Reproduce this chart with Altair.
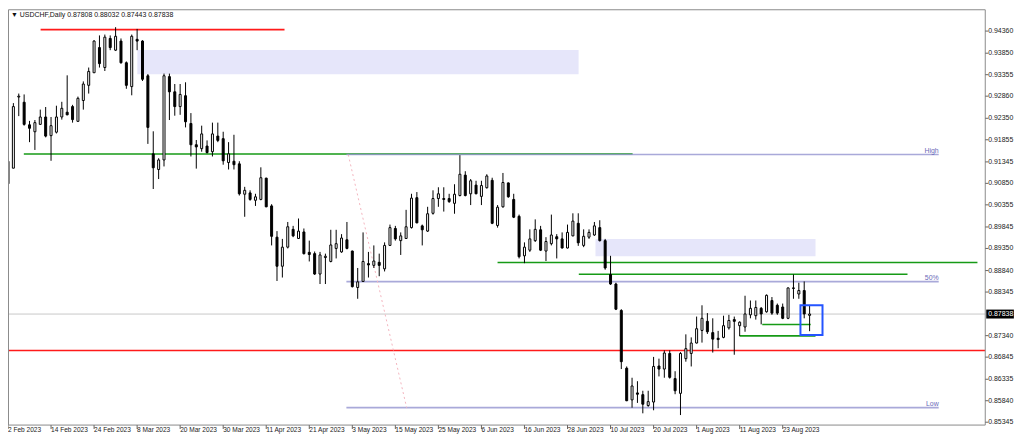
import altair as alt
import pandas as pd

# ---------------- data ----------------
opens = [
0.9084, 0.9120, 0.9284, 0.9272, 0.9220, 0.9204, 0.9221, 0.9238, 0.9195, 0.9203,
0.9238, 0.9249, 0.9262, 0.9228, 0.9276, 0.9311, 0.9340, 0.9398, 0.9352, 0.9419,
0.9392, 0.9413, 0.9363, 0.9308, 0.9417, 0.9413, 0.9333, 0.9153, 0.9117, 0.9139,
0.9331, 0.9296, 0.9262, 0.9287, 0.9223, 0.9174, 0.9165, 0.9171, 0.9158, 0.9194,
0.9188, 0.9133, 0.9136, 0.9130, 0.9060, 0.9063, 0.9046, 0.9048, 0.9097, 0.9033,
0.8961, 0.8894, 0.8938, 0.8979, 0.8958, 0.8973, 0.8926, 0.8923, 0.8876, 0.8914,
0.8905, 0.8935, 0.8927, 0.8955, 0.8929, 0.8845, 0.8859, 0.8900, 0.8896, 0.8903,
0.8888, 0.8942, 0.8981, 0.8953, 0.8958, 0.8983, 0.9052, 0.8987, 0.8975, 0.9016,
0.9050, 0.9050, 0.9050, 0.9039, 0.9057, 0.9104, 0.9061, 0.9081, 0.9055, 0.9075,
0.9092, 0.8988, 0.9031, 0.9086, 0.9048, 0.9009, 0.8918, 0.8931, 0.8953, 0.8978,
0.8929, 0.8946, 0.8962, 0.8957, 0.8936, 0.8964, 0.8993, 0.8942, 0.8961, 0.8966,
0.8983, 0.8953, 0.8875, 0.8853, 0.8792, 0.8659, 0.8586, 0.8602, 0.8598, 0.8573,
0.8581, 0.8664, 0.8657, 0.8693, 0.8635, 0.8601, 0.8681, 0.8693, 0.8717, 0.8746,
0.8767, 0.8741, 0.8728, 0.8730, 0.8752, 0.8771, 0.8757, 0.8754, 0.8782, 0.8780,
0.8797, 0.8789, 0.8815, 0.8804, 0.8800, 0.8774, 0.8844, 0.8830, 0.8838, 0.87808,
]
highs = [
0.9142, 0.9270, 0.9292, 0.9290, 0.9229, 0.9231, 0.9255, 0.9261, 0.9238, 0.9264,
0.9273, 0.9334, 0.9266, 0.9285, 0.9320, 0.9352, 0.9415, 0.9426, 0.9428, 0.9426,
0.9445, 0.9419, 0.9366, 0.9428, 0.9441, 0.9415, 0.9337, 0.9205, 0.9143, 0.9338,
0.9338, 0.9314, 0.9314, 0.9318, 0.9247, 0.9185, 0.9218, 0.9184, 0.9225, 0.9225,
0.9204, 0.9180, 0.9197, 0.9136, 0.9077, 0.9069, 0.9061, 0.9122, 0.9098, 0.9037,
0.8975, 0.8957, 0.8996, 0.8987, 0.9004, 0.8981, 0.8953, 0.8928, 0.8927, 0.8923,
0.8978, 0.8978, 0.8968, 0.8996, 0.8930, 0.8890, 0.8972, 0.8927, 0.8942, 0.8923,
0.8949, 0.8990, 0.8987, 0.8972, 0.9024, 0.9061, 0.9065, 0.8990, 0.9031, 0.9069,
0.9076, 0.9076, 0.9061, 0.9083, 0.9150, 0.9113, 0.9095, 0.9091, 0.9091, 0.9106,
0.9098, 0.9035, 0.9109, 0.9087, 0.9061, 0.9013, 0.8949, 0.8979, 0.9002, 0.8987,
0.8961, 0.9013, 0.8968, 0.8972, 0.8990, 0.9016, 0.9016, 0.8979, 0.8979, 0.8996,
0.9000, 0.8957, 0.8918, 0.8856, 0.8795, 0.8663, 0.8637, 0.8629, 0.8607, 0.8607,
0.8685, 0.8681, 0.8700, 0.8700, 0.8652, 0.8696, 0.8737, 0.8730, 0.8778, 0.8804,
0.8786, 0.8774, 0.8745, 0.8780, 0.8782, 0.8778, 0.8767, 0.8826, 0.8815, 0.8815,
0.8800, 0.8829, 0.8823, 0.8808, 0.8808, 0.8845, 0.8875, 0.8856, 0.8859, 0.88032,
]
lows = [
0.9062, 0.9120, 0.9240, 0.9218, 0.9180, 0.9162, 0.9220, 0.9191, 0.9137, 0.9200,
0.9232, 0.9242, 0.9225, 0.9227, 0.9255, 0.9292, 0.9340, 0.9352, 0.9344, 0.9392,
0.9390, 0.9361, 0.9303, 0.9288, 0.9392, 0.9321, 0.9176, 0.9072, 0.9095, 0.9124,
0.9231, 0.9241, 0.9243, 0.9214, 0.9147, 0.9119, 0.9158, 0.9154, 0.9147, 0.9180,
0.9128, 0.9117, 0.9117, 0.9057, 0.9008, 0.9045, 0.9033, 0.9046, 0.9030, 0.8942,
0.8860, 0.8868, 0.8935, 0.8961, 0.8957, 0.8921, 0.8905, 0.8874, 0.8853, 0.8853,
0.8903, 0.8912, 0.8925, 0.8933, 0.8845, 0.8819, 0.8858, 0.8868, 0.8890, 0.8871,
0.8882, 0.8941, 0.8953, 0.8920, 0.8957, 0.8981, 0.8993, 0.8942, 0.8973, 0.9013,
0.9031, 0.9020, 0.9040, 0.9015, 0.9055, 0.9055, 0.9035, 0.9060, 0.9035, 0.9073,
0.8991, 0.8983, 0.9029, 0.9052, 0.9005, 0.8912, 0.8901, 0.8927, 0.8950, 0.8929,
0.8906, 0.8942, 0.8912, 0.8935, 0.8935, 0.8963, 0.8941, 0.8938, 0.8957, 0.8964,
0.8951, 0.8886, 0.8851, 0.8793, 0.8657, 0.8583, 0.8568, 0.8579, 0.8555, 0.8570,
0.8562, 0.8640, 0.8637, 0.8635, 0.8599, 0.8551, 0.8674, 0.8663, 0.8716, 0.8718,
0.8738, 0.8695, 0.8705, 0.8728, 0.8748, 0.8690, 0.8733, 0.8743, 0.8774, 0.8771,
0.8760, 0.8787, 0.8782, 0.8782, 0.8772, 0.8772, 0.8819, 0.8819, 0.8774, 0.87443,
]
closes = [
0.9136, 0.9262, 0.9286, 0.9221, 0.9212, 0.9225, 0.9238, 0.9194, 0.9218, 0.9238,
0.9258, 0.9243, 0.9232, 0.9281, 0.9314, 0.9343, 0.9413, 0.9361, 0.9422, 0.9398,
0.9424, 0.9363, 0.9311, 0.9424, 0.9413, 0.9325, 0.9214, 0.9121, 0.9139, 0.9333,
0.9296, 0.9262, 0.9290, 0.9227, 0.9174, 0.9169, 0.9199, 0.9156, 0.9199, 0.9184,
0.9137, 0.9153, 0.9128, 0.9061, 0.9069, 0.9048, 0.9054, 0.9098, 0.9031, 0.8963,
0.8894, 0.8938, 0.8985, 0.8964, 0.8975, 0.8923, 0.8921, 0.8876, 0.8920, 0.8917,
0.8943, 0.8946, 0.8959, 0.8935, 0.8847, 0.8858, 0.8905, 0.8897, 0.8906, 0.8896,
0.8942, 0.8983, 0.8957, 0.8964, 0.8985, 0.9051, 0.8994, 0.8978, 0.9015, 0.9050,
0.9061, 0.9048, 0.9043, 0.9060, 0.9106, 0.9057, 0.9091, 0.9061, 0.9080, 0.9102,
0.8993, 0.9030, 0.9087, 0.9054, 0.9007, 0.8916, 0.8938, 0.8957, 0.8979, 0.8931,
0.8951, 0.8966, 0.8957, 0.8936, 0.8972, 0.8998, 0.8948, 0.8963, 0.8972, 0.8987,
0.8953, 0.8890, 0.8853, 0.8795, 0.8674, 0.8584, 0.8618, 0.8599, 0.8576, 0.8582,
0.8663, 0.8657, 0.8694, 0.8638, 0.8607, 0.8693, 0.8704, 0.8717, 0.8750, 0.8774,
0.8743, 0.8726, 0.8725, 0.8757, 0.8769, 0.8767, 0.8765, 0.8784, 0.8797, 0.8799,
0.8784, 0.8827, 0.8786, 0.8786, 0.8774, 0.8844, 0.8843, 0.8838, 0.8784, 0.87838,
]

date_tick_bars = [0, 8, 16, 24, 32, 40, 48, 56, 64, 72, 80, 88, 96, 104, 112, 120, 128, 136, 144]
date_tick_labels = ["2 Feb 2023", "14 Feb 2023", "24 Feb 2023", "8 Mar 2023", "20 Mar 2023",
                    "30 Mar 2023", "11 Apr 2023", "21 Apr 2023", "3 May 2023", "15 May 2023",
                    "25 May 2023", "6 Jun 2023", "16 Jun 2023", "28 Jun 2023", "10 Jul 2023",
                    "20 Jul 2023", "1 Aug 2023", "11 Aug 2023", "23 Aug 2023"]
price_ticks = [0.94360, 0.93850, 0.93355, 0.92860, 0.92350, 0.91855, 0.91345, 0.90850, 0.90355,
               0.89845, 0.89350, 0.88840, 0.88345, 0.87340, 0.86845, 0.86335, 0.85840, 0.85345]

# supply / demand zones (bar index from, to; price top, bottom)
zone_from = [24.04, 109.2]
zone_to = [106.06, 150.1]
zone_top = [0.93925, 0.89568]
zone_bot = [0.93366, 0.89173]

# horizontal trend lines (bar index from, to; price; colour)
seg_from = [6.06, 2.94, 91.0, 106.1, 140.2, 136.0]
seg_to = [51.4, 116.1, 180.2, 167.2, 149.2, 150.1]
seg_price = [0.94394, 0.91528, 0.89026, 0.88757, 0.87596, 0.87334]
seg_color = ["#ff1a1a", "#169a16", "#169a16", "#169a16", "#169a16", "#169a16"]

red_level = 0.86999

# fibonacci
fibo_levels = [0.91514, 0.88585, 0.85681]
fibo_names = ["High", "50%", "Low"]
fibo_from, fibo_to = 62.9, 173.0
diag_from, diag_to = 63.25, 74.1
diag_p0, diag_p1 = 0.9151, 0.8568

# blue box
box_from, box_to = 147.3, 151.4
box_top, box_bot = 0.88042, 0.87357

symbol = "USDCHF,Daily"

# ---------------- layout ----------------
W, H = 1014, 428
XS, YS = 0.993, 0.975          # compression of the reference pixel grid
BAR_PX = 5.45 * XS
P0, K = 0.9493, 0.0002234      # price at reference y=0, price per reference pixel


def fx(ref_x):
    return (ref_x - 2) * XS


def fy(ref_y):
    return (ref_y - 3) * YS


p_top = P0 - K * 3
p_bot = P0 - K * (3 + H / YS)
xs = alt.Scale(domain=[0, W / BAR_PX], nice=False, zero=False, padding=0)
ys = alt.Scale(domain=[p_bot, p_top], nice=False, zero=False, padding=0)


def X(f):
    return alt.X(f, type="quantitative", scale=xs, axis=None)


def Y(f):
    return alt.Y(f, type="quantitative", scale=ys, axis=None)


FRAME_R = fx(992)
FRAME_B = fy(432)
FONT = "Liberation Sans"

n = len(opens)
df = pd.DataFrame({"i": list(range(n)), "o": opens, "h": highs, "l": lows, "c": closes})
df["bt"] = df[["o", "c"]].max(axis=1)
df["bb"] = df[["o", "c"]].min(axis=1)
df["fill"] = ["white" if c >= o else "black" for o, c in zip(opens, closes)]

one = pd.DataFrame({"a": [0]})

zones = alt.Chart(pd.DataFrame({"x0": zone_from, "x1": zone_to, "t": zone_top, "b": zone_bot})).mark_rect(
    color="#e6e6fa").encode(x=X("x0"), x2=alt.X2("x1"), y=Y("t"), y2=alt.Y2("b"))

frame = alt.Chart(one).mark_rect(fill="transparent", stroke="#8a8a8a", strokeWidth=1).encode(
    x=alt.value(0.5), x2=alt.value(FRAME_R), y=alt.value(0.5), y2=alt.value(FRAME_B))

full = alt.Chart(pd.DataFrame({"p": [closes[-1], red_level], "col": ["#c8c8c8", "#ff1a1a"],
                               "sw": [1, 1.6]})).mark_rule().encode(
    x=alt.value(0), x2=alt.value(FRAME_R), y=Y("p"),
    color=alt.Color("col:N", scale=None), strokeWidth=alt.StrokeWidth("sw:Q", scale=None))

segs = alt.Chart(pd.DataFrame({"x0": seg_from, "x1": seg_to, "p": seg_price, "col": seg_color})).mark_rule(
    strokeWidth=1.6).encode(x=X("x0"), x2=alt.X2("x1"), y=Y("p"), color=alt.Color("col:N", scale=None))

fibo = alt.Chart(pd.DataFrame({"p": fibo_levels, "name": fibo_names, "x0": [fibo_from] * 3,
                               "x1": [fibo_to] * 3}))
fibo_lines = fibo.mark_rule(color="#9494d0", strokeWidth=1.6, opacity=0.8).encode(
    x=X("x0"), x2=alt.X2("x1"), y=Y("p"))
fibo_text = fibo.mark_text(align="right", baseline="bottom", dy=-1, fontSize=7, font=FONT,
                           color="#6a6ab8").encode(x=X("x1"), y=Y("p"), text="name:N")

diag = alt.Chart(pd.DataFrame({"x0": [diag_from], "x1": [diag_to], "p0": [diag_p0], "p1": [diag_p1]})).mark_rule(
    color="#f3b3bd", strokeDash=[2, 3], strokeWidth=1).encode(
    x=X("x0"), x2=alt.X2("x1"), y=Y("p0"), y2=alt.Y2("p1"))

wicks = alt.Chart(df).mark_rule(color="black", strokeWidth=1).encode(x=X("i"), y=Y("l"), y2=alt.Y2("h"))
bodies = alt.Chart(df).mark_bar(width=2, stroke="black", strokeWidth=1).encode(
    x=X("i"), y=Y("bb"), y2=alt.Y2("bt"), fill=alt.Fill("fill:N", scale=None))

box = alt.Chart(pd.DataFrame({"x0": [box_from], "x1": [box_to], "t": [box_top], "b": [box_bot]})).mark_rect(
    fill="transparent", stroke="#2454ff", strokeWidth=2).encode(
    x=X("x0"), x2=alt.X2("x1"), y=Y("t"), y2=alt.Y2("b"))

title_txt = "\u25bc " + symbol + " " + " ".join(f"{v:.5f}" for v in (opens[-1], highs[-1], lows[-1], closes[-1]))
title = alt.Chart(pd.DataFrame({"t": [title_txt]})).mark_text(
    align="left", baseline="middle", fontSize=7, font=FONT, color="#111").encode(
    x=alt.value(3), y=alt.value(fy(8.5)), text="t:N")

ptdf = pd.DataFrame({"p": price_ticks, "lab": [f"{v:.5f}" for v in price_ticks]})
ptick = alt.Chart(ptdf).mark_rule(color="#666", strokeWidth=1).encode(
    x=alt.value(FRAME_R), x2=alt.value(FRAME_R + 3), y=Y("p"))
plab = alt.Chart(ptdf).mark_text(align="left", baseline="middle", fontSize=7, font=FONT, color="#222").encode(
    x=alt.value(fx(995)), y=Y("p"), text="lab:N")

half = 4.5 * K / YS
cur = pd.DataFrame({"p": [closes[-1]], "hi": [closes[-1] + half], "lo": [closes[-1] - half],
                    "lab": [f"{closes[-1]:.5f}"]})
cur_box = alt.Chart(cur).mark_rect(color="black").encode(
    x=alt.value(fx(993)), x2=alt.value(fx(1021)), y=Y("hi"), y2=alt.Y2("lo"))
cur_txt = alt.Chart(cur).mark_text(align="left", baseline="middle", fontSize=7, font=FONT, color="white").encode(
    x=alt.value(fx(995)), y=Y("p"), text="lab:N")

ddf = pd.DataFrame({"i": date_tick_bars, "lab": date_tick_labels})
dtick = alt.Chart(ddf).mark_rule(color="#666", strokeWidth=1).encode(
    x=X("i"), y=alt.value(FRAME_B), y2=alt.value(FRAME_B + 4))
dlab = alt.Chart(ddf).mark_text(align="left", baseline="middle", fontSize=6.6, font=FONT, color="#222", dx=0).encode(
    x=X("i"), y=alt.value(fy(437.5)), text="lab:N")

chart = alt.layer(
    zones, full, segs, fibo_lines, diag, wicks, bodies, box, fibo_text, frame, title,
    ptick, plab, cur_box, cur_txt, dtick, dlab,
).properties(width=W, height=H, padding=0, autosize=alt.AutoSizeParams(type="none")
).configure_view(strokeWidth=0)

chart.save("out.html", embed_options={"renderer": "svg", "actions": False})
